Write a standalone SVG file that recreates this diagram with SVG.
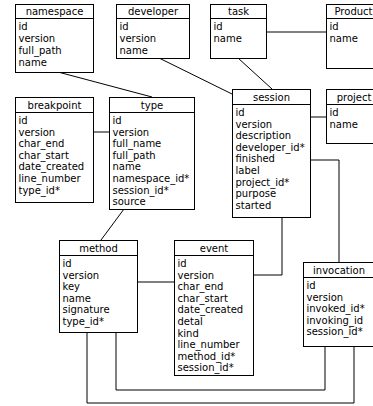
<svg xmlns="http://www.w3.org/2000/svg" width="373" height="406" viewBox="0 0 373 406">
<style>
rect{fill:#fff;stroke:#000;stroke-width:1}
.h{stroke:#000;stroke-width:1}
text{font-family:"DejaVu Sans",sans-serif;font-size:10px;fill:#000}
.t{text-anchor:middle}
#connectors line,#connectors polyline{fill:none;stroke:#000;stroke-width:1}
</style>
<rect x="0" y="0" width="373" height="406" style="stroke:none"/>
<g id="connectors">
<line x1="58" y1="72" x2="152" y2="97"/>
<line x1="159" y1="58" x2="232" y2="94"/>
<line x1="238" y1="58" x2="272" y2="89"/>
<line x1="266" y1="32" x2="326" y2="32"/>
<line x1="93" y1="132" x2="109" y2="132"/>
<line x1="310" y1="117" x2="326" y2="117"/>
<polyline points="310,160 339,160 339,262"/>
<line x1="124" y1="209" x2="101" y2="240"/>
<line x1="137" y1="282" x2="174" y2="282"/>
<polyline points="253,275 282,275 282,217"/>
<polyline points="116,332 116,390 325,390 325,346"/>
<polyline points="87,332 87,403 354,403 354,346"/>
</g>
<g id="namespace">
<rect x="15.5" y="4.5" width="78" height="68"/>
<line class="h" x1="15.5" y1="18.5" x2="93.5" y2="18.5"/>
<text class="t" x="54.5" y="15">namespace</text>
<text x="18.5" y="29.5">id</text>
<text x="18.5" y="41.5">version</text>
<text x="18.5" y="53.5">full_path</text>
<text x="18.5" y="65.5">name</text>
</g>
<g id="developer">
<rect x="116.5" y="4.5" width="73" height="54"/>
<line class="h" x1="116.5" y1="18.5" x2="189.5" y2="18.5"/>
<text class="t" x="153" y="15">developer</text>
<text x="119.5" y="29.5">id</text>
<text x="119.5" y="41.5">version</text>
<text x="119.5" y="53.5">name</text>
</g>
<g id="task">
<rect x="210.5" y="4.5" width="56" height="54"/>
<line class="h" x1="210.5" y1="18.5" x2="266.5" y2="18.5"/>
<text class="t" x="238.5" y="15">task</text>
<text x="213.5" y="29.5">id</text>
<text x="213.5" y="41.5">name</text>
</g>
<g id="Product">
<rect x="326.5" y="4.5" width="57" height="64"/>
<line class="h" x1="326.5" y1="18.5" x2="383.5" y2="18.5"/>
<text class="t" x="353.5" y="15">Product</text>
<text x="329.5" y="29.5">id</text>
<text x="329.5" y="41.5">name</text>
</g>
<g id="breakpoint">
<rect x="15.5" y="97.5" width="78" height="105"/>
<line class="h" x1="15.5" y1="112.5" x2="93.5" y2="112.5"/>
<text class="t" x="54.5" y="108.5">breakpoint</text>
<text x="18.5" y="124">id</text>
<text x="18.5" y="135.6">version</text>
<text x="18.5" y="147.2">char_end</text>
<text x="18.5" y="158.8">char_start</text>
<text x="18.5" y="170.4">date_created</text>
<text x="18.5" y="182">line_number</text>
<text x="18.5" y="193.6">type_id*</text>
</g>
<g id="type">
<rect x="109.5" y="97.5" width="85" height="112"/>
<line class="h" x1="109.5" y1="112.5" x2="194.5" y2="112.5"/>
<text class="t" x="152" y="108.5">type</text>
<text x="112.5" y="124">id</text>
<text x="112.5" y="135.6">version</text>
<text x="112.5" y="147.2">full_name</text>
<text x="112.5" y="158.8">full_path</text>
<text x="112.5" y="170.4">name</text>
<text x="112.5" y="182">namespace_id*</text>
<text x="112.5" y="193.6">session_id*</text>
<text x="112.5" y="205.2">source</text>
</g>
<g id="session">
<rect x="232.5" y="89.5" width="78" height="128"/>
<line class="h" x1="232.5" y1="104.5" x2="310.5" y2="104.5"/>
<text class="t" x="271.5" y="100.5">session</text>
<text x="235.5" y="116">id</text>
<text x="235.5" y="127.6">version</text>
<text x="235.5" y="139.2">description</text>
<text x="235.5" y="150.8">developer_id*</text>
<text x="235.5" y="162.4">finished</text>
<text x="235.5" y="174">label</text>
<text x="235.5" y="185.6">project_id*</text>
<text x="235.5" y="197.2">purpose</text>
<text x="235.5" y="208.8">started</text>
</g>
<g id="project">
<rect x="326.5" y="89.5" width="57" height="54"/>
<line class="h" x1="326.5" y1="104.5" x2="383.5" y2="104.5"/>
<text class="t" x="354" y="100.5">project</text>
<text x="329.5" y="116">id</text>
<text x="329.5" y="127.6">name</text>
</g>
<g id="method">
<rect x="59.5" y="240.5" width="78" height="92"/>
<line class="h" x1="59.5" y1="255.5" x2="137.5" y2="255.5"/>
<text class="t" x="98.5" y="251.5">method</text>
<text x="62.5" y="267">id</text>
<text x="62.5" y="278.6">version</text>
<text x="62.5" y="290.2">key</text>
<text x="62.5" y="301.8">name</text>
<text x="62.5" y="313.4">signature</text>
<text x="62.5" y="325">type_id*</text>
</g>
<g id="event">
<rect x="174.5" y="240.5" width="79" height="135"/>
<line class="h" x1="174.5" y1="255.5" x2="253.5" y2="255.5"/>
<text class="t" x="214" y="251.5">event</text>
<text x="177.5" y="267">id</text>
<text x="177.5" y="278.6">version</text>
<text x="177.5" y="290.2">char_end</text>
<text x="177.5" y="301.8">char_start</text>
<text x="177.5" y="313.4">date_created</text>
<text x="177.5" y="325">detal</text>
<text x="177.5" y="336.6">kind</text>
<text x="177.5" y="348.2">line_number</text>
<text x="177.5" y="359.8">method_id*</text>
<text x="177.5" y="371.4">session_id*</text>
</g>
<g id="invocation">
<rect x="303.5" y="262.5" width="80" height="84"/>
<line class="h" x1="303.5" y1="277.5" x2="383.5" y2="277.5"/>
<text class="t" x="339" y="273.5">invocation</text>
<text x="306.5" y="289">id</text>
<text x="306.5" y="300.6">version</text>
<text x="306.5" y="312.2">invoked_id*</text>
<text x="306.5" y="323.8">invoking_id</text>
<text x="306.5" y="335.4">session_id*</text>
</g>
</svg>
